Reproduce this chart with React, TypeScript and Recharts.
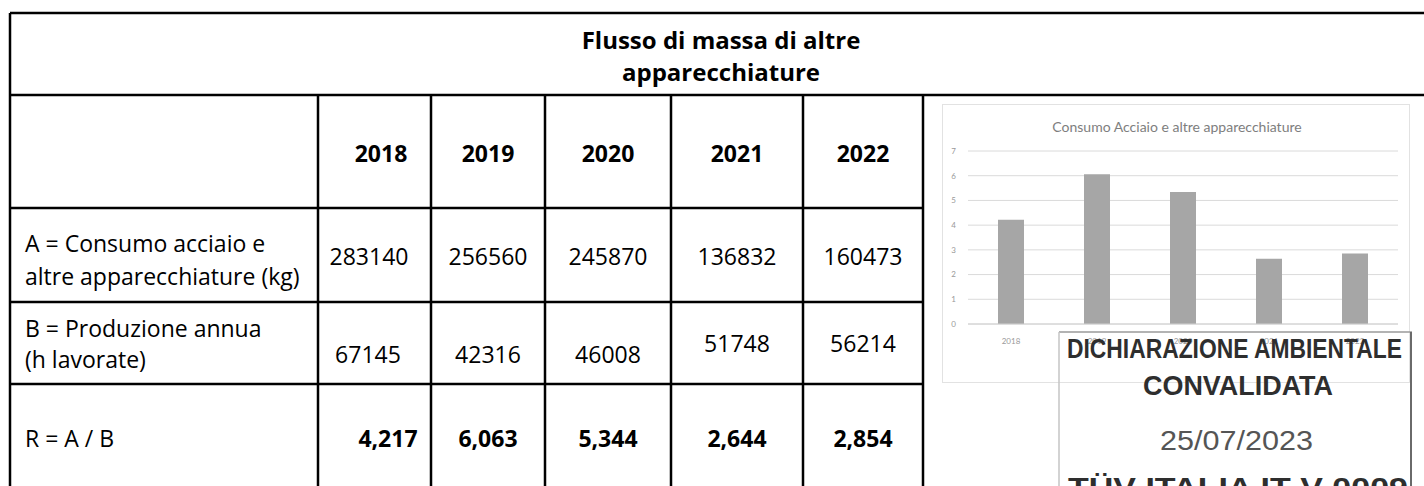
import React from 'react';
import { BarChart, Bar, XAxis, YAxis, CartesianGrid } from 'recharts';

// dati della tabella
const anni = ['2018', '2019', '2020', '2021', '2022'];
const consumoKg = [283140, 256560, 245870, 136832, 160473];
const oreLavorate = [67145, 42316, 46008, 51748, 56214];
const rapporto = [4.217, 6.063, 5.344, 2.644, 2.854];
const yTicks = [0, 1, 2, 3, 4, 5, 6, 7];

const chartData = anni.map((anno, i) => ({ anno, r: rapporto[i] }));

const FONT = '"Open Sans", Lato, sans-serif';
const CHART_FONT = 'Lato, "Noto Sans", sans-serif';

// griglia tabella (layout)
const colX = [10, 318, 431, 545, 671, 803, 923];
const colCenter = [374, 488, 608, 737, 863];
const rowY = [13, 95, 208, 302, 384];

const fmtR = (v: number) => v.toFixed(3).replace('.', ',');

function Tabella() {
  const line = { stroke: '#000', strokeWidth: 2.5 };
  const fs = 23;
  return (
    <svg width={1424} height={486} style={{ position: 'absolute', left: 0, top: 0 }}>
      {/* linee orizzontali */}
      <line x1={10} x2={1424} y1={13} y2={13} {...line} />
      <line x1={10} x2={1424} y1={95} y2={95} {...line} />
      {rowY.slice(2).map((y) => (
        <line key={y} x1={10} x2={923} y1={y} y2={y} {...line} />
      ))}
      {/* linee verticali */}
      <line x1={10} x2={10} y1={13} y2={486} {...line} />
      {colX.slice(1).map((x) => (
        <line key={x} x1={x} x2={x} y1={95} y2={486} {...line} />
      ))}

      <g fontFamily={FONT} fill="#000">
        <text x={721} y={49} fontSize={24} fontWeight={700} textAnchor="middle">Flusso di massa di altre</text>
        <text x={721} y={81} fontSize={24} fontWeight={700} textAnchor="middle">apparecchiature</text>

        {anni.map((a, i) => (
          <text key={a} x={i === 0 ? 381 : colCenter[i]} y={162} fontSize={fs} fontWeight={700} textAnchor="middle">{a}</text>
        ))}

        <text x={25} y={252} fontSize={fs}>A = Consumo acciaio e</text>
        <text x={25} y={285} fontSize={fs}>altre apparecchiature (kg)</text>
        {consumoKg.map((v, i) => (
          <text key={i} x={i === 0 ? 369 : colCenter[i]} y={265} fontSize={fs} textAnchor="middle">{v}</text>
        ))}

        <text x={25} y={337} fontSize={fs}>B = Produzione annua</text>
        <text x={25} y={368} fontSize={fs}>(h lavorate)</text>
        {oreLavorate.map((v, i) => (
          <text key={i} x={i === 0 ? 368 : colCenter[i]} y={i >= 3 ? 352 : 363} fontSize={fs} textAnchor="middle">{v}</text>
        ))}

        <text x={25} y={447} fontSize={fs}>R = A / B</text>
        {rapporto.map((v, i) => (
          <text key={i} x={i === 0 ? 388 : colCenter[i]} y={447} fontSize={fs} fontWeight={700} textAnchor="middle">{fmtR(v)}</text>
        ))}
      </g>
    </svg>
  );
}

function Grafico() {
  return (
    <div style={{ position: 'absolute', left: 942, top: 104, width: 468, height: 279, border: '1px solid #e2e2e2', boxSizing: 'border-box', background: '#fff' }}>
      <div style={{ position: 'absolute', left: 0, top: 13, width: 468, textAlign: 'center', fontFamily: CHART_FONT, fontSize: 14, color: '#7e7e7e' }}>
        Consumo Acciaio e altre apparecchiature
      </div>
      <BarChart width={466} height={277} data={chartData} margin={{ top: 46, right: 11, bottom: 38, left: 0 }} barSize={26}>
        <CartesianGrid vertical={false} stroke="#dadada" />
        <XAxis dataKey="anno" axisLine={{ stroke: '#d0d0d0' }} tickLine={false} tickMargin={8} height={20}
          tick={{ fontSize: 8, fill: '#999', fontFamily: CHART_FONT }} />
        <YAxis domain={[0, 7]} ticks={yTicks} axisLine={false} tickLine={false} width={25} tickMargin={6}
          tick={{ fontSize: 8, fill: '#999', fontFamily: CHART_FONT }} />
        <Bar dataKey="r" fill="#a6a6a6" isAnimationActive={false} />
      </BarChart>
    </div>
  );
}

function Timbro() {
  const f = '"Liberation Sans", Arial, sans-serif';
  return (
    <svg width={1424} height={486} style={{ position: 'absolute', left: 0, top: 0 }}>
      <line x1={1059} x2={1412} y1={332} y2={332} stroke="#9a9a9a" strokeWidth={1.5} />
      <line x1={1059} x2={1059} y1={332} y2={486} stroke="#c4c4c4" strokeWidth={1.5} />
      <line x1={1411} x2={1411} y1={332} y2={486} stroke="#6a6a6a" strokeWidth={2} />
      <g fontFamily={f}>
        <text x={1067} y={358} fontSize={27} fontWeight={700} fill="#2e2e2e" textLength={335} lengthAdjust="spacingAndGlyphs">DICHIARAZIONE AMBIENTALE</text>
        <text x={1143} y={395} fontSize={27} fontWeight={700} fill="#2e2e2e" textLength={190} lengthAdjust="spacingAndGlyphs">CONVALIDATA</text>
        <text x={1160} y={450} fontSize={27} fill="#555" textLength={153} lengthAdjust="spacingAndGlyphs">25/07/2023</text>
        <text x={1068} y={497} fontSize={27} fontWeight={700} fill="#2e2e2e" textLength={340} lengthAdjust="spacingAndGlyphs">TÜV ITALIA IT-V-0009</text>
      </g>
    </svg>
  );
}

export default function App() {
  return (
    <div style={{ position: 'absolute', left: 0, top: 0, width: 1424, height: 486, background: '#fff', overflow: 'hidden' }}>
      <Tabella />
      <Grafico />
      <Timbro />
    </div>
  );
}
